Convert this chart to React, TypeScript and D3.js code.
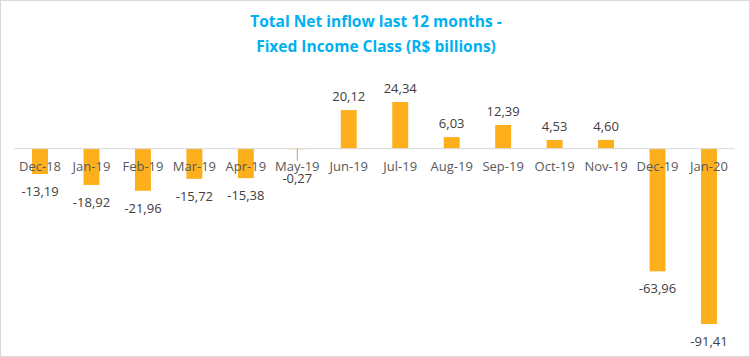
import React from "react";
import * as d3 from "d3";

const categories = ["Dec-18","Jan-19","Feb-19","Mar-19","Apr-19","May-19","Jun-19","Jul-19","Aug-19","Sep-19","Oct-19","Nov-19","Dec-19","Jan-20"];
const values = [-13.19,-18.92,-21.96,-15.72,-15.38,-0.27,20.12,24.34,6.03,12.39,4.53,4.60,-63.96,-91.41];
const titleLines = ["Total Net inflow last 12 months -", "Fixed Income Class (R$ billions)"];

const W = 750, H = 357;
const FONT = "'Open Sans', sans-serif";

export default function App() {
  const x = d3.scaleBand<string>().domain(categories).range([14.3, 734.7]).paddingInner(0.69).paddingOuter(0.345);
  const y = d3.scaleLinear().domain([-91.41, 24.34]).range([324, 102]);
  const y0 = y(0);
  const fmt = (v: number) => v.toFixed(2).replace(".", ",");
  const cx = (c: string) => (x(c) ?? 0) + x.bandwidth() / 2;
  return (
    <div style={{ position: "absolute", left: 0, top: 0 }}>
      <svg width={W} height={H} style={{ display: "block", background: "#fff" }}>
        <rect x={0.5} y={0.5} width={W - 1} height={H - 1} fill="#fff" stroke="#D9D9D9" />
        {titleLines.map((t, i) => (
          <text key={i} x={376} y={27 + i * 25} textAnchor="middle" fill="#00B0F0" fontFamily={FONT} fontWeight={700} fontSize={15.5}>{t}</text>
        ))}
        {values.map((v, i) => {
          const c = categories[i];
          return (
            <rect key={c} x={x(c)} width={x.bandwidth()} y={Math.min(y(v), y0)} height={Math.abs(y(v) - y0)} fill="#FDB01B" />
          );
        })}
        <line x1={14.3} x2={734.7} y1={y0} y2={y0} stroke="#D9D9D9" strokeWidth={1} />
        <line x1={cx("May-19")} x2={cx("May-19")} y1={y0} y2={y0 + 12} stroke="#A6A6A6" strokeWidth={1} />
        {categories.map((c) => (
          <text key={c} x={cx(c)} y={y0 + 22} textAnchor="middle" fill="#595959" fontFamily={FONT} fontSize={13}>{c}</text>
        ))}
        {values.map((v, i) => {
          const c = categories[i];
          const ly = v >= 0 ? y(v) - 9 : Math.max(y(v) + 22, y0 + 34);
          return (
            <text key={c} x={cx(c)} y={ly} textAnchor="middle" fill="#404040" fontFamily={FONT} fontSize={13}>{fmt(v)}</text>
          );
        })}
      </svg>
    </div>
  );
}
